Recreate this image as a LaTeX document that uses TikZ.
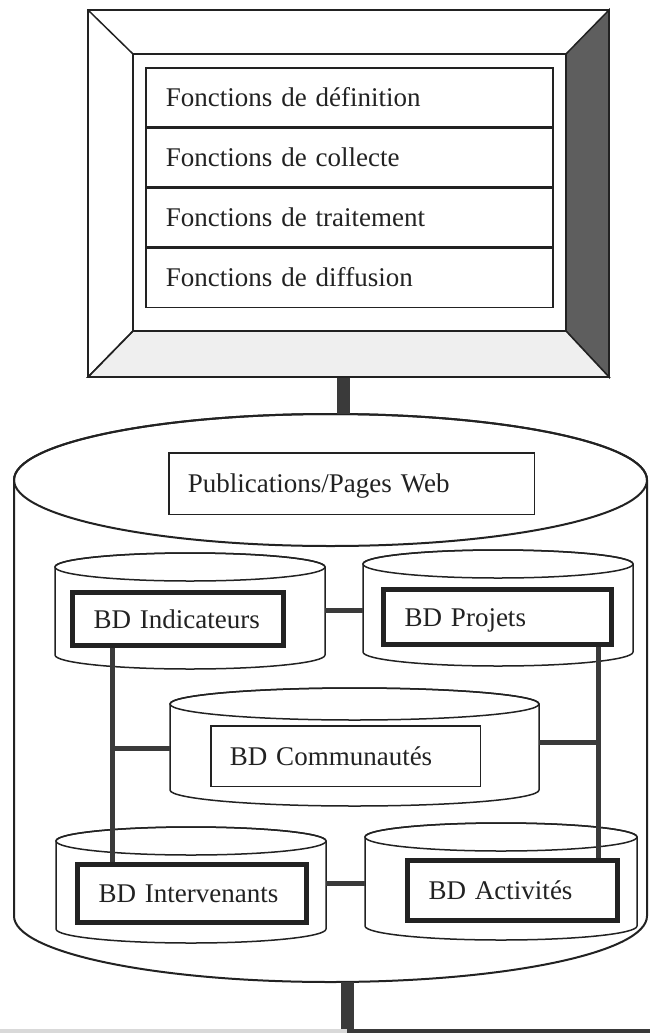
\documentclass[tikz,border=0pt]{standalone}
\usepackage{fontspec}
\setmainfont{Liberation Serif}

\definecolor{ink}{HTML}{222222}
\definecolor{bar}{HTML}{3A3A3A}
\definecolor{bevel}{HTML}{5E5E5E}
\definecolor{sill}{HTML}{EFEFEF}
\definecolor{faint}{HTML}{D9D9D9}

% drum: a vertical database cylinder
% #1 name, #2 left x, #3 right x, #4 top-ellipse centre y, #5 bottom-ellipse centre y, #6 y radius, #7 line width
\newcommand{\drum}[7]{%
  \pgfmathsetmacro{\drumrx}{(#3-#2)/2}%
  \pgfmathsetmacro{\drumcx}{(#3+#2)/2}%
  \pgfmathsetmacro{\drumcy}{(#4+#5)/2}%
  \filldraw[fill=white, draw=ink, line width=#7]
    (#2,#4) -- (#2,#5)
    arc[start angle=180, end angle=0, x radius=\drumrx, y radius=#6]
    -- (#3,#4)
    arc[start angle=0, end angle=-180, x radius=\drumrx, y radius=#6] -- cycle;
  \draw[ink, line width=#7] (\drumcx,#4) ellipse [x radius=\drumrx, y radius=#6];
  \node[inner sep=0pt, minimum width={(#3-#2)*1pt}, minimum height={(#5-#4)*1pt}]
    (#1) at (\drumcx,\drumcy) {};%
}

\begin{document}
\begin{tikzpicture}[x=1pt, y=-1pt,
  every node/.style={font=\fontsize{27}{32}\selectfont, text=ink},
  row/.style={draw=ink, line width=1.5pt, anchor=north west,
    minimum width=407pt, minimum height=58.75pt, text width=367pt,
    inner xsep=20pt, inner ysep=0pt, align=left, text height=18pt, text depth=0pt},
  dbbox/.style={draw=ink, line width=5pt, fill=white, inner xsep=21pt,
    inner ysep=0pt, align=left, text height=18pt, text depth=0pt},
  plainbox/.style={draw=ink, line width=1.5pt, fill=white, inner xsep=19pt,
    inner ysep=0pt, align=left, text height=18pt, text depth=0pt},
  link/.style={draw=bar, line width=5pt},
  stem/.style={draw=bar, line width=13pt},
]
\useasboundingbox (0,0) rectangle (650,1036);

% ---------- monitor ----------
\node[draw=ink, line width=2pt, fill=white, minimum width=521pt, minimum height=367pt,
      inner sep=0pt] (mon) at (348.5,193.5) {};
\filldraw[fill=bevel, draw=ink, line width=1.5pt]
  (566,54) -- (609,10) -- (609,377) -- (566,331) -- cycle;
\filldraw[fill=sill, draw=ink, line width=1.5pt]
  (133,331) -- (566,331) -- (609,377) -- (88,377) -- cycle;
\draw[ink, line width=1.5pt] (88,10) -- (133,54) (88,377) -- (133,331);
\draw[ink, line width=1.5pt] (133,54) rectangle (566,331);
\draw[ink, line width=2pt] (88,10) rectangle (609,377);

\node[row] (f1) at (145,67) {Fonctions de définition};
\node[row] (f2) at (f1.south west) {Fonctions de collecte};
\node[row] (f3) at (f2.south west) {Fonctions de traitement};
\node[row] (f4) at (f3.south west) {Fonctions de diffusion};

% ---------- main database ----------
\drum{db}{14}{647}{480}{916}{66}{2pt}
\coordinate (dbtop) at (343,414);
\coordinate (dbfoot) at (347,982);
\coordinate (ground) at (347,1031);
\draw[stem] (mon.south -| dbtop) -- (dbtop);
\draw[stem] (dbfoot) -- (ground);
\coordinate (floorL) at (0,1031);
\coordinate (floorR) at (650,1031);
\draw[faint, line width=4pt] (floorL) -- (ground);
\draw[bar, line width=4pt] (ground) -- (floorR);

\node[plainbox, minimum width=365.5pt, minimum height=61.5pt, text width=327.5pt]
  (pub) at (351.5,483.5) {Publications/Pages Web};

% ---------- component databases ----------
\drum{cI}{55}{325}{567}{655}{14}{1.5pt}
\drum{cP}{363}{633}{564}{652}{14}{1.5pt}
\drum{cC}{170}{539}{704}{790}{16}{1.5pt}
\drum{cN}{56}{326}{841}{929}{14}{1.5pt}
\drum{cA}{365}{637}{837}{926}{14}{1.5pt}

% ---------- links ----------
\coordinate (lbus) at (112,0);
\coordinate (rbus) at (598,0);
\draw[link] (cI.east |- 0,610) -- (cP.west |- 0,610);
\draw[link] (cN.east |- 0,883) -- (cA.west |- 0,883);
\draw[link] (lbus |- 0,748) -- (cC.west |- 0,748);
\draw[link] (cC.east |- 0,742) -- (rbus |- 0,742);

% ---------- labelled boxes ----------
\node[dbbox, minimum width=211pt, minimum height=53pt, text width=169pt]
  (ind) at (178,619) {BD Indicateurs};
\node[dbbox, minimum width=228pt, minimum height=55pt, text width=186pt]
  (proj) at (497.5,617) {BD Projets};
\node[plainbox, minimum width=269.5pt, minimum height=60.5pt, text width=231.5pt]
  (com) at (345.5,756) {BD Communautés};
\node[dbbox, minimum width=229pt, minimum height=58pt, text width=187pt]
  (int) at (192,893.5) {BD Intervenants};
\node[dbbox, minimum width=210pt, minimum height=60pt, text width=168pt]
  (act) at (512.5,890.5) {BD Activités};

\draw[link] (ind.south -| lbus) -- (int.north -| lbus);
\draw[link] (proj.south -| rbus) -- (act.north -| rbus);
\end{tikzpicture}
\end{document}
